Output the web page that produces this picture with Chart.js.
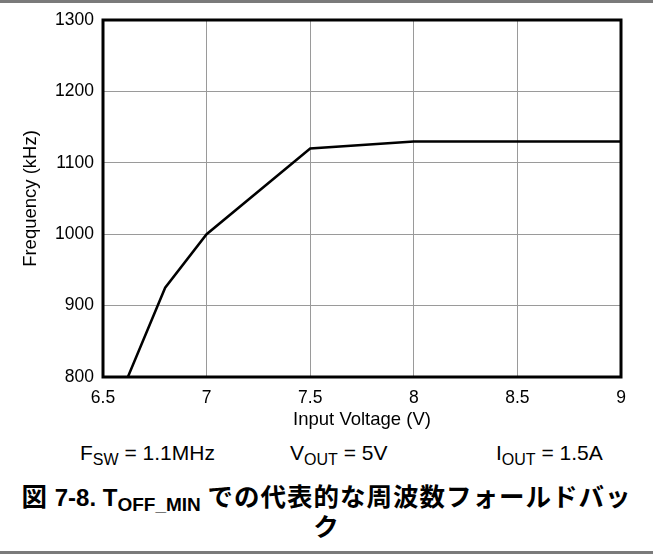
<!DOCTYPE html>
<html>
<head>
<meta charset="utf-8">
<script src="https://cdn.jsdelivr.net/npm/chart.js@4/dist/chart.umd.min.js"></script>
<style>
  html, body { margin: 0; padding: 0; background: #fff; }
  #page { position: relative; width: 653px; height: 554px; overflow: hidden; font-family: "Liberation Sans", Arial, sans-serif; color: #000; }
  #topline { position: absolute; left: 0; top: 0; width: 653px; height: 3px; background: #7a7a7a; }
  #botline { position: absolute; left: 0; top: 551px; width: 653px; height: 3px; background: #7a7a7a; }
  #wrap { position: absolute; left: 0; top: 0; width: 653px; height: 440px; }
  .cond { position: absolute; top: 441px; font-size: 21px; line-height: 24px; white-space: nowrap; }
  .cond sub { font-size: 16px; vertical-align: -5px; line-height: 0; }
  #caption { position: absolute; left: 0; top: 481px; width: 653px; text-align: center; font-weight: bold; font-size: 25.5px; line-height: 27px; letter-spacing: 1px; white-space: nowrap; font-family: "Noto Sans CJK JP", sans-serif; }
  #caption .lat { font-family: "Liberation Sans", Arial, sans-serif; font-size: 24px; letter-spacing: 0; }
  #caption sub { font-size: 19px; vertical-align: -5px; line-height: 0; }
</style>
</head>
<body>
<div id="page">
  <div id="topline"></div>
  <div id="wrap"><canvas id="c"></canvas></div>
  <div class="cond" style="left:80px">F<sub>SW</sub> = 1.1MHz</div>
  <div class="cond" style="left:290px">V<sub>OUT</sub> = 5V</div>
  <div class="cond" style="left:496px">I<sub>OUT</sub> = 1.5A</div>
  <div id="caption">図<span class="lat"> 7-8. T<sub>OFF_MIN</sub> </span>での代表的な周波数フォールドバッ<br>ク</div>
  <div id="botline"></div>
</div>
<script>
// 入力電圧 (V) と周波数 (kHz)
var vin  = [6.62, 6.8, 7, 7.5, 8, 9];
var freq = [800, 925, 1000, 1120, 1130, 1130];
var xTicks = [6.5, 7, 7.5, 8, 8.5, 9];
var yTicks = [800, 900, 1000, 1100, 1200, 1300];

var FONT = "'Liberation Sans', Arial, sans-serif";

// 外枠
var frame = {
  id: 'frame',
  afterDraw: function(chart) {
    var a = chart.chartArea, ctx = chart.ctx;
    ctx.save();
    ctx.strokeStyle = '#000';
    ctx.lineWidth = 3;
    ctx.strokeRect(a.left, a.top, a.right - a.left, a.bottom - a.top);
    ctx.restore();
  }
};

function plain(v) { return String(v); }

new Chart(document.getElementById('c'), {
  type: 'scatter',
  data: {
    datasets: [{
      data: vin.map(function(v, i) { return { x: v, y: freq[i] }; }),
      showLine: true,
      borderColor: '#000',
      borderWidth: 2.5,
      pointRadius: 0,
      tension: 0,
      fill: false
    }]
  },
  options: {
    responsive: true,
    maintainAspectRatio: false,
    animation: false,
    layout: { padding: { top: 20, right: 32, left: 0, bottom: 0 } },
    plugins: { legend: { display: false }, tooltip: { enabled: false } },
    scales: {
      x: {
        type: 'linear', min: 6.5, max: 9,
        afterBuildTicks: function(s) { s.ticks = xTicks.map(function(v) { return { value: v }; }); },
        afterFit: function(s) { s.height = 63; },
        ticks: { color: '#000', font: { family: FONT, size: 17.5 }, padding: 11, maxRotation: 0, callback: plain },
        grid: { color: '#9a9a9a', lineWidth: 1, drawTicks: false },
        border: { display: false },
        title: { display: true, text: 'Input Voltage (V)', color: '#000', font: { family: FONT, size: 18.5 }, padding: { top: 0, bottom: 9 } }
      },
      y: {
        type: 'linear', min: 800, max: 1300,
        afterBuildTicks: function(s) { s.ticks = yTicks.map(function(v) { return { value: v }; }); },
        afterFit: function(s) { s.width = 103; },
        ticks: { color: '#000', font: { family: FONT, size: 17.5 }, padding: 9, callback: plain },
        grid: { color: '#9a9a9a', lineWidth: 1, drawTicks: false },
        border: { display: false },
        title: { display: true, text: 'Frequency (kHz)', color: '#000', font: { family: FONT, size: 18.5 }, padding: { top: 20, bottom: 0 } }
      }
    }
  },
  plugins: [frame]
});
</script>
</body>
</html>
